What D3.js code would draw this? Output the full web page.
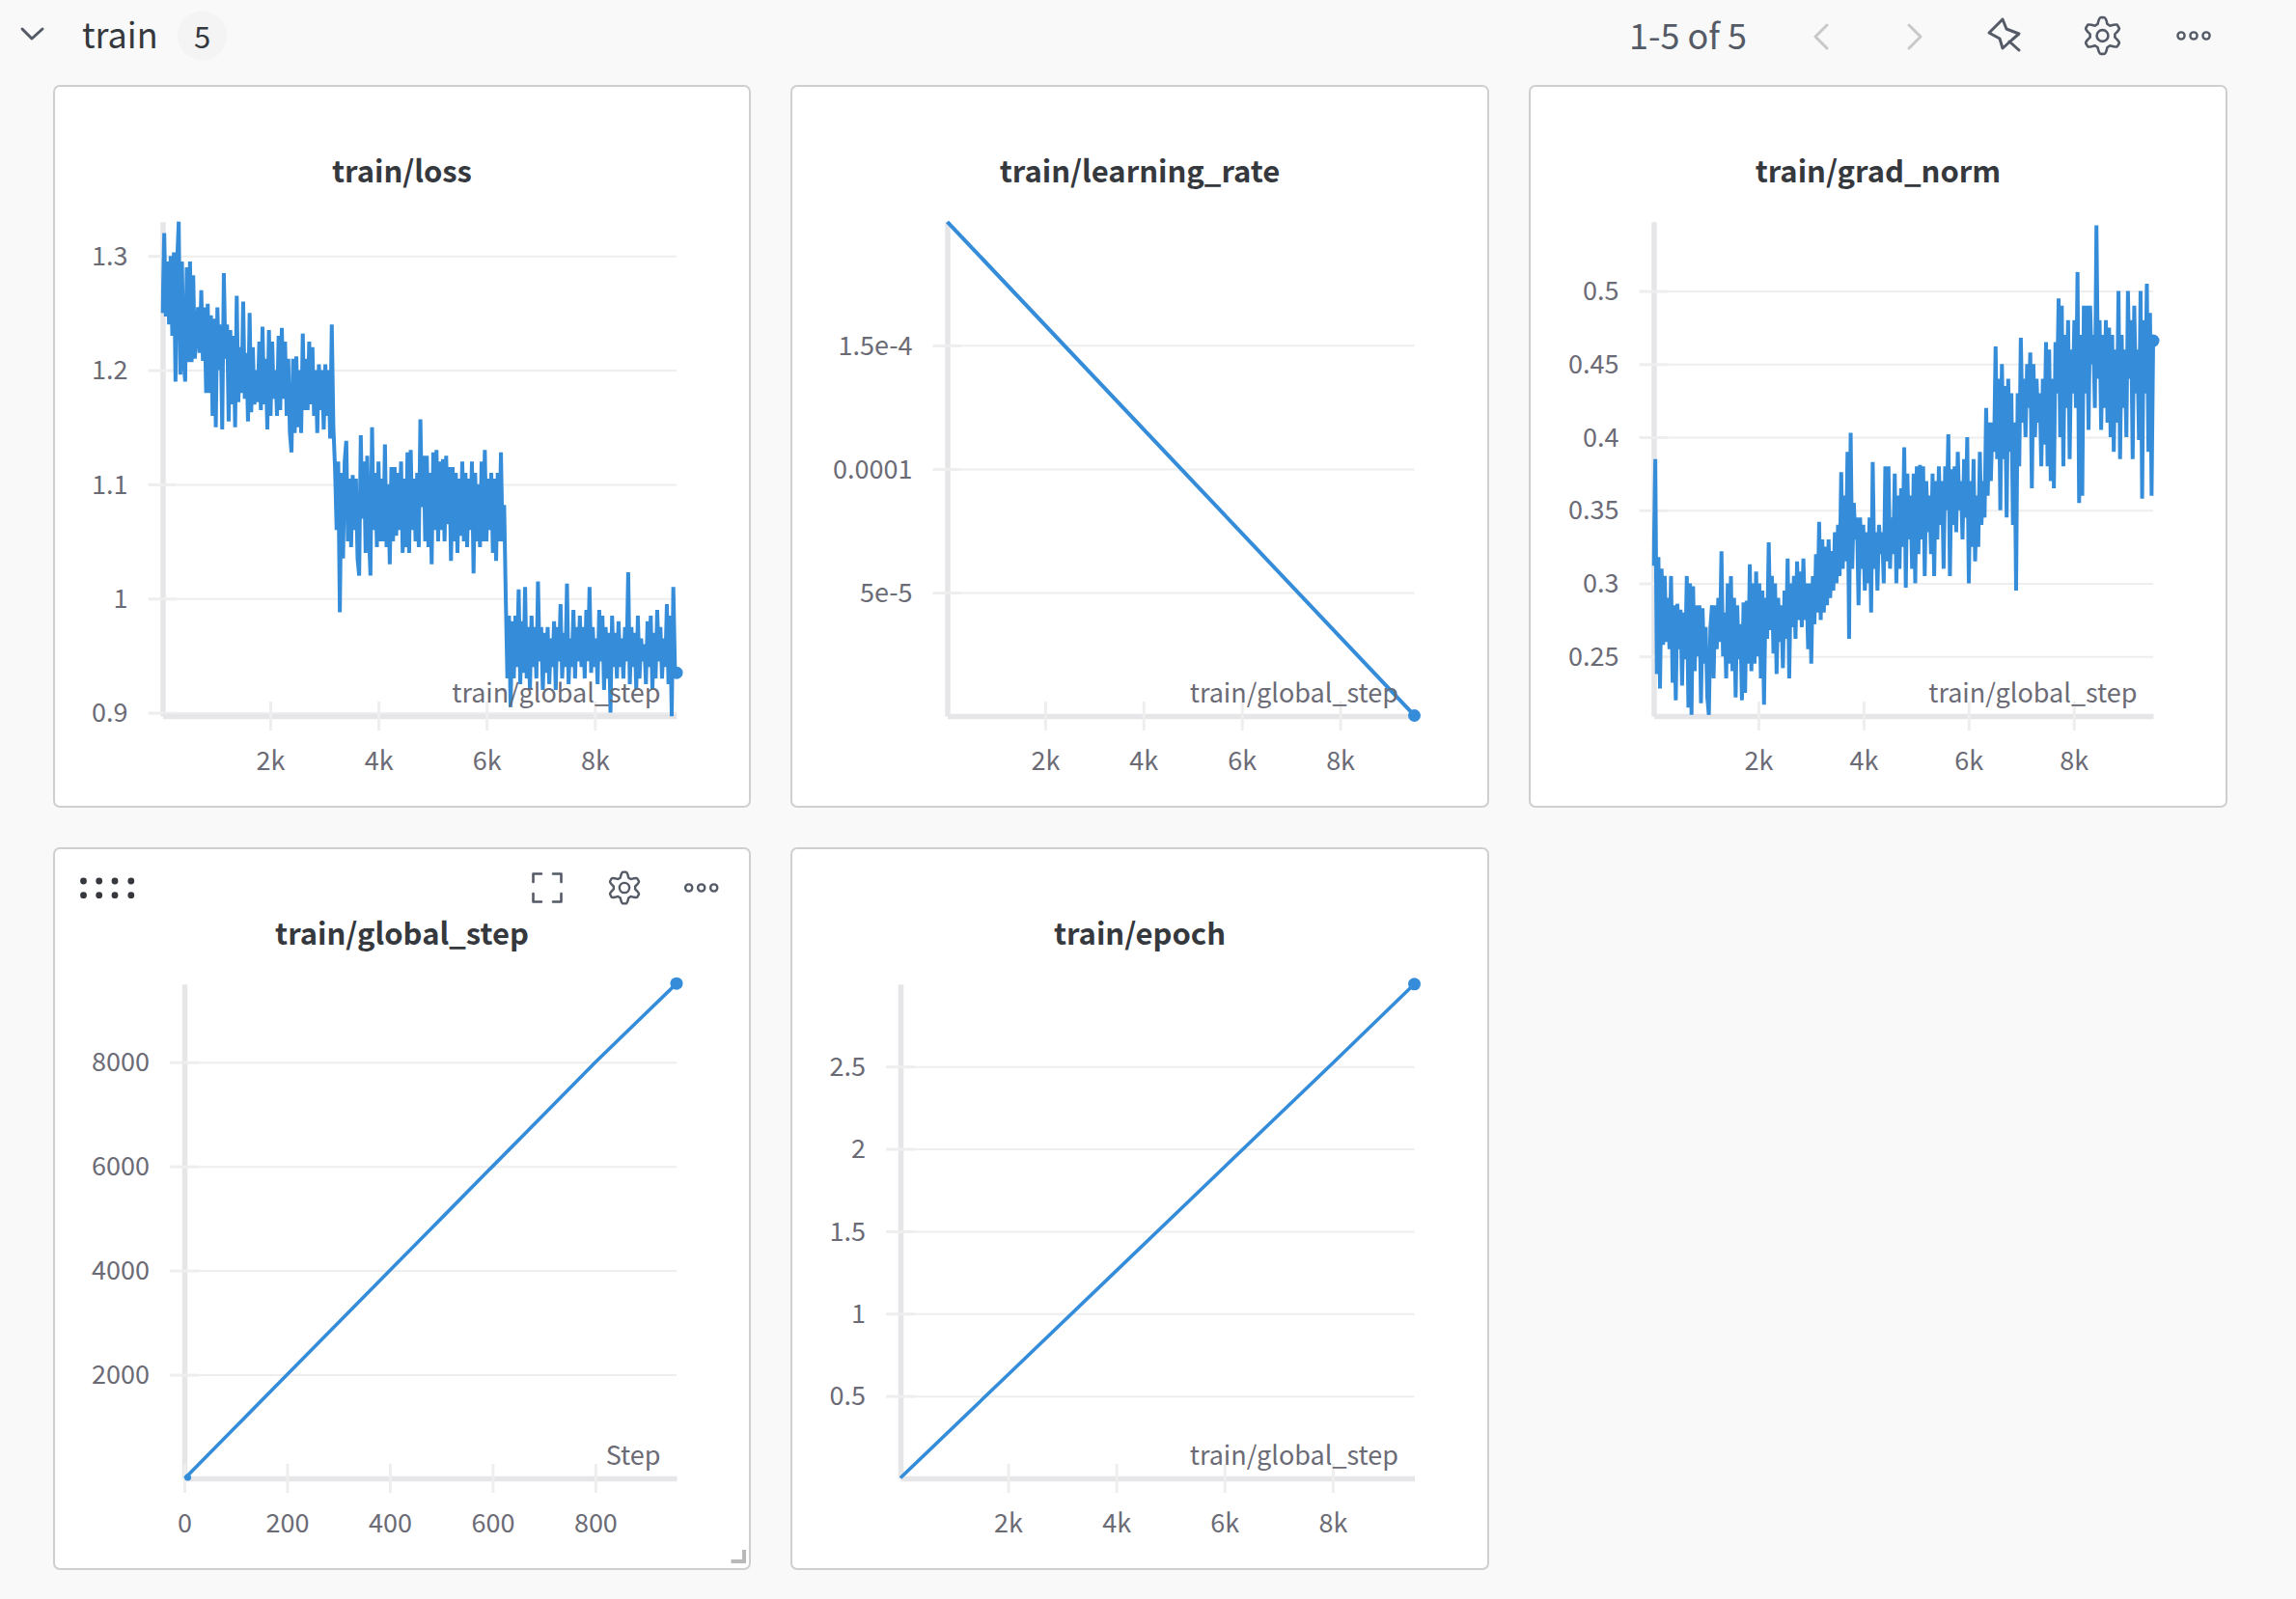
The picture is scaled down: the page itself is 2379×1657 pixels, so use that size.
<!DOCTYPE html>
<html><head><meta charset="utf-8">
<style>
html,body{margin:0;padding:0;background:#f9f9f9;width:2379px;height:1657px;overflow:hidden}
svg{display:block}
text{font-family:"Noto Sans CJK SC","Noto Sans",sans-serif}
</style>
<script src="https://cdn.jsdelivr.net/npm/d3@7/dist/d3.min.js"></script>
</head><body><svg id="c" width="2379" height="1657"></svg>
<script>
const lossValues=[
1.25,1.32,1.247,1.295,1.24,1.30,1.23,1.303,1.19,1.295,1.33,
1.196,1.295,1.21,1.19,1.29,1.207,1.295,1.207,1.283,1.21,
1.23,1.255,1.215,1.27,1.208,1.255,1.18,1.258,1.18,1.248,
1.16,1.245,1.15,1.255,1.2,1.24,1.148,1.285,1.21,1.24,
1.155,1.235,1.17,1.23,1.15,1.265,1.172,1.22,1.18,1.26,
1.175,1.215,1.155,1.25,1.163,1.22,1.17,1.2,1.172,1.225,
1.165,1.238,1.17,1.21,1.148,1.235,1.16,1.225,1.175,1.2,
1.16,1.23,1.165,1.237,1.175,1.225,1.16,1.21,1.145,1.128,
1.21,1.145,1.212,1.15,1.2,1.145,1.232,1.165,1.21,1.165,
1.225,1.17,1.22,1.16,1.2,1.145,1.205,1.165,1.2,1.148,
1.205,1.16,1.2,1.14,1.24,1.15,1.115,1.06,1.12,.988,
1.11,1.035,1.12,1.138,1.05,1.105,1.045,1.108,1.06,1.105,
1.035,1.02,1.143,1.07,1.12,1.04,1.125,1.06,1.02,1.15,
1.06,1.11,1.045,1.12,1.05,1.105,1.05,1.135,1.045,1.1,
1.03,1.115,1.05,1.115,1.055,1.11,1.06,1.12,1.04,1.105,
1.045,1.128,1.04,1.13,1.06,1.105,1.05,1.11,1.045,1.157,
1.08,1.125,1.05,1.125,1.045,1.11,1.03,1.128,1.06,1.13,
1.05,1.12,1.06,1.122,1.05,1.125,1.065,1.115,1.033,1.115,
1.05,1.11,1.04,1.105,1.055,1.12,1.05,1.11,1.045,1.105,
1.06,1.12,1.022,1.11,1.05,1.1,1.045,1.12,1.05,1.13,
1.05,1.105,1.06,1.11,1.04,1.105,1.033,1.11,1.05,1.128,
1.05,1.082,1.0,.93,.985,.905,.98,.93,.985,.94,
1.008,.925,.98,.935,1.01,.93,.975,.92,.985,.94,
.975,.93,1.015,.945,.975,.92,.97,.935,.975,.925,
.965,.94,.98,.92,.975,.945,.995,.93,.97,.94,
1.013,.925,.965,.94,.99,.93,.975,.945,.985,.94,
.975,.93,.99,.945,1.01,.935,.975,.94,.965,.925,
.99,.945,.985,.92,.975,.93,.97,.9,.985,.94,
.97,.93,.98,.94,.965,.93,.975,.945,1.023,.925,
.975,.94,.97,.92,.985,.93,.965,.945,.96,.925,
.98,.94,.985,.92,.97,.93,.99,.945,.975,.93,
.965,.94,.995,.925,.985,.897,1.01,.94,.935];
const gradValues=[
.312,.385,.238,.318,.228,.31,.258,.305,.26,.29,
.255,.305,.232,.285,.22,.286,.255,.282,.23,.28,
.248,.305,.215,.30,.21,.298,.24,.285,.25,.285,
.218,.283,.245,.27,.222,.21,.27,.285,.235,.285,
.255,.29,.26,.322,.25,.28,.235,.30,.245,.305,
.24,.29,.222,.285,.248,.272,.22,.287,.225,.288,
.245,.313,.24,.30,.245,.308,.25,.30,.235,.295,
.217,.29,.262,.328,.268,.305,.252,.30,.238,.29,
.26,.285,.242,.295,.262,.317,.235,.30,.27,.305,
.262,.315,.275,.308,.27,.317,.275,.30,.255,.30,
.245,.305,.272,.32,.28,.342,.275,.33,.28,.325,
.285,.33,.29,.322,.295,.335,.30,.34,.305,.376,
.31,.36,.315,.39,.262,.403,.31,.355,.33,.345,
.285,.345,.31,.34,.295,.335,.30,.345,.28,.383,
.31,.335,.295,.34,.32,.335,.30,.38,.315,.38,
.31,.345,.32,.375,.30,.36,.31,.365,.325,.393,
.297,.375,.33,.36,.31,.375,.30,.38,.32,.381,
.33,.38,.305,.37,.335,.36,.32,.375,.305,.37,
.33,.38,.34,.37,.31,.38,.35,.402,.305,.378,
.34,.38,.335,.39,.35,.37,.33,.385,.345,.40,
.30,.37,.325,.385,.315,.36,.325,.39,.34,.37,
.345,.42,.36,.41,.37,.41,.39,.462,.385,.44,
.35,.45,.385,.435,.345,.44,.39,.43,.34,.41,
.295,.43,.38,.468,.41,.44,.40,.45,.42,.458,
.365,.45,.40,.44,.41,.43,.38,.44,.395,.465,
.38,.46,.37,.44,.365,.465,.43,.495,.40,.49,
.38,.47,.42,.48,.385,.46,.43,.48,.42,.513,
.355,.47,.36,.49,.43,.49,.405,.49,.45,.47,
.42,.545,.44,.48,.405,.47,.42,.48,.41,.475,
.40,.47,.39,.46,.41,.50,.385,.47,.42,.46,
.40,.50,.44,.48,.385,.49,.43,.46,.398,.50,
.358,.48,.43,.505,.39,.485,.36,.466];
const lrSteps=[10,9510];
const lrValues=[2e-4,2e-7];
const globalSteps=[1,100,200,300,400,500,600,700,800,958];
const globalValues=[10,1000,2000,3000,4000,5000,6000,7000,8000,9510];
const epochSteps=[10,2000,4000,6000,8000,9510];
const epochValues=[.003,.63,1.26,1.89,2.52,3.0];
const kTicks=[2000,4000,6000,8000];
const kLabels=["2k","4k","6k","8k"];
const stepTicks=[0,200,400,600,800];
const stepLabels=["0","200","400","600","800"];
const lossTicks=[.9,1,1.1,1.2,1.3];
const lossLabels=["0.9","1","1.1","1.2","1.3"];
const lrTicks=[5e-5,1e-4,1.5e-4];
const lrLabels=["5e-5","0.0001","1.5e-4"];
const gradTicks=[.25,.3,.35,.4,.45,.5];
const gradLabels=["0.25","0.3","0.35","0.4","0.45","0.5"];
const globalTicks=[2000,4000,6000,8000];
const globalLabels=["2000","4000","6000","8000"];
const epochTicks=[.5,1,1.5,2,2.5];
const epochLabels=["0.5","1","1.5","2","2.5"];
const titles=["train/loss","train/learning_rate","train/grad_norm","train/global_step","train/epoch"];

const BLUE="#358dda",AX="#e6e6e9",GRID="#eeeeef",TXT="#6b6b76",DARK="#35383d";
const evenSteps=v=>v.map((_,i)=>10+i*9500/(v.length-1));
const panels=[
{t:titles[0],box:[55,88,778,837],x0:168.5,x1:701,xd:[10,9510],yd:[.8971,1.3299],xs:evenSteps(lossValues),ys:lossValues,xt:kTicks,xl:kLabels,yt:lossTicks,yl:lossLabels,lab:"train/global_step"},
{t:titles[1],box:[819,88,1543,837],x0:981.5,x1:1465.5,xd:[10,9510],yd:[0,2e-4],xs:lrSteps,ys:lrValues,xt:kTicks,xl:kLabels,yt:lrTicks,yl:lrLabels,lab:"train/global_step"},
{t:titles[2],box:[1584,88,2308,837],x0:1713.5,x1:2231,xd:[10,9510],yd:[.2092,.5474],xs:evenSteps(gradValues),ys:gradValues,xt:kTicks,xl:kLabels,yt:gradTicks,yl:gradLabels,lab:"train/global_step"},
{t:titles[3],box:[55,878,778,1627],x0:191,x1:701,xd:[0,958],yd:[10,9498],xs:globalSteps,ys:globalValues,xt:stepTicks,xl:stepLabels,yt:globalTicks,yl:globalLabels,lab:"Step",thin:1},
{t:titles[4],box:[819,878,1543,1627],x0:933,x1:1465.5,xd:[10,9510],yd:[0,3],xs:epochSteps,ys:epochValues,xt:kTicks,xl:kLabels,yt:epochTicks,yl:epochLabels,lab:"train/global_step",thin:1}
];
const svg=d3.select("#c");
const FS=27;
panels.forEach((p,k)=>{
  const [l,t,r,b]=p.box;
  const top=t+141.8, base=t+654;
  svg.append("rect").attr("x",l+1).attr("y",t+1).attr("width",r-l-2).attr("height",b-t-2).attr("rx",6)
    .attr("fill","#fff").attr("stroke","#cfcfcf").attr("stroke-width",2);
  svg.append("text").attr("x",(l+r)/2).attr("y",t+100.5).attr("text-anchor","middle")
    .attr("font-size",31).attr("font-weight",600).attr("fill",DARK).text(p.t);
  const x=d3.scaleLinear().domain(p.xd).range([p.x0,p.x1]);
  const y=d3.scaleLinear().domain(p.yd).range([base,top]);
  const cid="clip"+k;
  svg.append("clipPath").attr("id",cid).append("rect").attr("x",p.x0-2).attr("y",top-1).attr("width",p.x1-p.x0+4).attr("height",base-top+3);
  const ga=svg.append("g");
  const ya=ga.append("g").attr("transform",`translate(${p.x0},0)`)
    .call(d3.axisLeft(y).tickValues(p.yt).tickFormat((d,i)=>p.yl[i]).tickSize(15).tickPadding(21).tickSizeOuter(0));
  ya.selectAll(".tick line").attr("x1",-15).attr("x2",15).attr("stroke",GRID).attr("stroke-width",3);
  ya.selectAll(".tick").append("line").attr("x1",15).attr("x2",p.x1-p.x0).attr("stroke",GRID).attr("stroke-width",2);
  ya.select(".domain").attr("stroke",AX).attr("stroke-width",5.5);
  ya.selectAll("text").attr("font-size",FS).attr("fill",TXT).attr("dy",".34em").attr("font-family",'"Noto Sans CJK SC"');
  const xa=ga.append("g").attr("transform",`translate(0,${base})`)
    .call(d3.axisBottom(x).tickValues(p.xt).tickFormat((d,i)=>p.xl[i]).tickSize(15).tickPadding(22).tickSizeOuter(0));
  xa.selectAll(".tick line").attr("y1",-15).attr("y2",15).attr("stroke",GRID).attr("stroke-width",3);
  xa.select(".domain").attr("stroke",AX).attr("stroke-width",5.5);
  xa.selectAll("text").attr("font-size",FS).attr("fill",TXT).attr("font-family",'"Noto Sans CJK SC"');
  const data=p.xs.map((d,i)=>[d,p.ys[i]]);
  svg.append("path").datum(data).attr("clip-path",`url(#${cid})`)
    .attr("d",d3.line().x(d=>x(d[0])).y(d=>y(d[1])))
    .attr("fill","none").attr("stroke",BLUE).attr("stroke-width",p.thin?3.6:4).attr("stroke-linejoin","bevel");
  const last=data[data.length-1];
  svg.append("circle").attr("cx",x(last[0])).attr("cy",y(Math.max(last[1],p.yd[0]))).attr("r",6.5).attr("fill",BLUE);
  if(k==3) svg.append("circle").attr("cx",x(data[0][0])+3).attr("cy",base-1).attr("r",3.5).attr("fill",BLUE);
  svg.append("text").attr("x",p.x1-16.5).attr("y",t+640).attr("text-anchor","end")
    .attr("font-size",FS).attr("fill",TXT).text(p.lab);
});

// page chrome
const ICON="#555b66";
function poly(pts,col,w){svg.append("path").attr("d",d3.line()(pts)).attr("fill","none").attr("stroke",col).attr("stroke-width",w).attr("stroke-linecap","round").attr("stroke-linejoin","round");}
function gear(cx,cy,R,col,w){
  const n=48,pts=d3.range(n).map(i=>{const a=i/n*2*Math.PI;return [a,R*(.86+.16*Math.tanh(3*Math.cos(6*a)))];});
  svg.append("path").attr("transform",`translate(${cx},${cy})`)
    .attr("d",d3.lineRadial().curve(d3.curveCardinalClosed)(pts))
    .attr("fill","none").attr("stroke",col).attr("stroke-width",w);
  svg.append("circle").attr("cx",cx).attr("cy",cy).attr("r",R*.32).attr("fill","none").attr("stroke",col).attr("stroke-width",w);
}
function dots(cx,cy,col){[-13,0,13].forEach(d=>svg.append("circle").attr("cx",cx+d).attr("cy",cy).attr("r",3.6).attr("fill","none").attr("stroke",col).attr("stroke-width",2.4));}
poly([[23,30],[33,40],[44,30]],ICON,3);
svg.append("text").attr("x",85).attr("y",50).attr("font-size",36).attr("fill",DARK).text("train");
svg.append("circle").attr("cx",209.5).attr("cy",37).attr("r",25.5).attr("fill","#f4f4f4");
svg.append("text").attr("x",209.5).attr("y",50).attr("text-anchor","middle").attr("font-size",31).attr("fill",DARK).text("5");
svg.append("text").attr("x",1688).attr("y",51).attr("font-size",36).attr("fill",ICON).text("1-5 of 5");
poly([[1893,26],[1881,38],[1893,50]],"#c8c8c8",3);
poly([[1978,26],[1990,38],[1978,50]],"#c8c8c8",3);
poly([[2075,20],[2061,34],[2072,40],[2075,50],[2085,41],[2092,35],[2079,30],[2075,20]],ICON,3);
poly([[2082,43],[2092,52]],ICON,3);
gear(2178.5,37,18.5,ICON,2.6);
dots(2273,37,ICON);
// hovered panel controls
[86.5,102.7,119,135.8].forEach(cx=>[913,927.7].forEach(cy=>svg.append("circle").attr("cx",cx).attr("cy",cy).attr("r",3.4).attr("fill",DARK)));
const ec=[567,920],es=14.5,ei=6;
[[-1,-1],[1,-1],[1,1],[-1,1]].forEach(([a,b])=>poly([[ec[0]+a*es,ec[1]+b*ei],[ec[0]+a*es,ec[1]+b*es],[ec[0]+a*ei,ec[1]+b*es]],ICON,2.6));
gear(647,920,16,ICON,2.4);
dots(726.7,920,ICON);
svg.append("path").attr("d","M757.5 1618H771V1606").attr("fill","none").attr("stroke","#b9b9b9").attr("stroke-width",4);
</script></body></html>
